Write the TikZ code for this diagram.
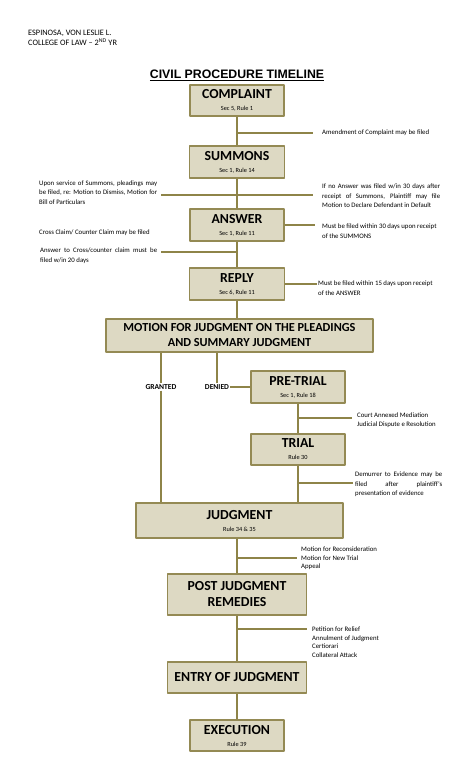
\documentclass[tikz,border=0pt]{standalone}
\usepackage{fontspec}
\setmainfont{Carlito}
\newfontfamily\titlefont{Liberation Sans}
\definecolor{tanfill}{HTML}{DDD9C3}
\definecolor{tanedge}{HTML}{948A54}
\definecolor{linkcol}{HTML}{8E8448}
\newcommand\fs[2]{\fontsize{#1}{#2}\selectfont}
\newcommand\stagetext[2]{\fs{13.8}{15}#1\\\mdseries\fs{6.3}{11}#2}
\begin{document}
\begin{tikzpicture}[x=1pt,y=-1pt, line join=round,
	stage/.style={draw=tanedge, fill=tanfill, line width=1.3pt, inner sep=0pt, align=center, font=\bfseries},
	link/.style={draw=linkcol, line width=2.5pt},
	note/.style={inner sep=0pt, anchor=west, align=left, font=\fs{6.8}{9.5}},
	tag/.style={inner sep=1pt, font=\bfseries\fs{7.6}{9}}]
	\def\sx{237} \def\px{298} % spines
	\useasboundingbox (0,0) rectangle (474,780);
	% header
	\node[inner sep=0pt, anchor=west, align=left, font=\fs{8.3}{10}] (author) at (28,38) {ESPINOSA, VON LESLIE L.\\COLLEGE OF LAW -- 2\textsuperscript{ND} YR};
	\node[inner sep=0pt, font=\titlefont\bfseries\fs{12.3}{14}] (title) at (237,75) {\underline{CIVIL PROCEDURE TIMELINE}};
	% stages
	\node[stage, minimum width=94, minimum height=31] (complaint) at (\sx,100.5) {\stagetext{COMPLAINT}{Sec 5, Rule 1}};
	\node[stage, minimum width=95, minimum height=32] (summons) at (\sx,162) {\stagetext{SUMMONS}{Sec 1, Rule 14}};
	\node[stage, minimum width=94, minimum height=32] (answer) at (\sx,225) {\stagetext{ANSWER}{Sec 1, Rule 11}};
	\node[stage, minimum width=95, minimum height=32] (reply) at (\sx,284) {\stagetext{REPLY}{Sec 6, Rule 11}};
	\node[stage, minimum width=267, minimum height=33, font=\bfseries\fs{12.3}{15}] (motion) at (239.5,335.5) {MOTION FOR JUDGMENT ON THE PLEADINGS\\AND SUMMARY JUDGMENT};
	\node[stage, minimum width=94, minimum height=32] (pretrial) at (\px,387) {\stagetext{PRE-TRIAL}{Sec 1, Rule 18}};
	\node[stage, minimum width=94, minimum height=31] (trial) at (\px,449.5) {\stagetext{TRIAL}{Rule 30}};
	\node[stage, minimum width=207, minimum height=35] (judgment) at (239.5,520.5) {\stagetext{JUDGMENT}{Rule 34 \& 35}};
	\node[stage, minimum width=139, minimum height=41, font=\bfseries\fs{13.8}{16}] (post) at (\sx,594.5) {POST JUDGMENT\\REMEDIES};
	\node[stage, minimum width=139, minimum height=31, font=\bfseries\fs{13.8}{15}] (entry) at (\sx,677.5) {ENTRY OF JUDGMENT};
	\node[stage, minimum width=94, minimum height=31] (execution) at (\sx,735.5) {\stagetext{EXECUTION}{Rule 39}};
	\node[tag] (granted) at (161,387) {GRANTED};
	\node[tag] (denied) at (217,387) {DENIED};
	% notes
	\node[note] (amend) at (322,133) {Amendment of Complaint may be filed};
	\node[note, text width=118, align=justify] (pleadings) at (39,192.5) {Upon service of Summons, pleadings may\linebreak be filed, re: Motion to Dismiss, Motion for\linebreak Bill of Particulars};
	\node[note, text width=118, align=justify] (default) at (322,196) {If no Answer was filed w/in 30 days after\linebreak receipt of Summons, Plaintiff may file\linebreak Motion to Declare Defendant in Default};
	\node[note] (within30) at (322,231) {Must be filed within 30 days upon receipt\\of the SUMMONS};
	\node[note] (crossclaim) at (39,233) {Cross Claim/ Counter Claim may be filed};
	\node[note, text width=117, align=justify] (within20) at (40,255.5) {Answer to Cross/counter claim must be\linebreak filed w/in 20 days};
	\node[note] (within15) at (318,288) {Must be filed within 15 days upon receipt\\of the ANSWER};
	\node[note] (mediation) at (357,420) {Court Annexed Mediation\\Judicial Dispute e Resolution};
	\node[note, text width=87, align=justify] (demurrer) at (355,484.5) {Demurrer to Evidence may be\linebreak filed after plaintiff's\linebreak presentation of evidence};
	\node[note, font=\fs{6.8}{8.6}] (motions) at (301,558.5) {Motion for Reconsideration\\Motion for New Trial\\Appeal};
	\node[note, font=\fs{6.8}{8.6}] (relief) at (312,642) {Petition for Relief\\Annulment of Judgment\\Certiorari\\Collateral Attack};
	% branch points
	\coordinate (amendpt) at (\sx,133);   \coordinate (amendend) at (313,133);
	\coordinate (sumleft) at (161,195);   \coordinate (sumright) at (313,195);
	\coordinate (ansend) at (315,225);
	\coordinate (crossleft) at (161,252); \coordinate (crosspt) at (\sx,252);
	\coordinate (repend) at (317,284);
	\coordinate (prept) at (\px,418);     \coordinate (preend) at (352,418);
	\coordinate (trialpt) at (\px,483);   \coordinate (trialend) at (353,483);
	\coordinate (judgpt) at (\sx,558);    \coordinate (judgend) at (297,558);
	\coordinate (postpt) at (\sx,629);    \coordinate (postend) at (307,629);
	% connectors
	\draw[link] (complaint) -- (summons);
	\draw[link] (summons) -- (answer);
	\draw[link] (answer) -- (reply);
	\draw[link] (reply.south) -- (reply.south |- motion.north);
	\draw[link] (granted.north) -- (granted.north |- motion.south);
	\draw[link] (granted.south) -- (granted.south |- judgment.north);
	\draw[link] (denied.north) -- (denied.north |- motion.south);
	\draw[link] (denied.east) -- (pretrial.west);
	\draw[link] (pretrial) -- (trial);
	\draw[link] (trial.south) -- (trial.south |- judgment.north);
	\draw[link] (judgment.south -| post.north) -- (post.north);
	\draw[link] (post) -- (entry);
	\draw[link] (entry) -- (execution);
	\draw[link] (amendpt) -- (amendend);
	\draw[link] (sumleft) -- (sumright);
	\draw[link] (answer.east) -- (ansend);
	\draw[link] (crossleft) -- (crosspt);
	\draw[link] (reply.east) -- (repend);
	\draw[link] (prept) -- (preend);
	\draw[link] (trialpt) -- (trialend);
	\draw[link] (judgpt) -- (judgend);
	\draw[link] (postpt) -- (postend);
\end{tikzpicture}
\end{document}
